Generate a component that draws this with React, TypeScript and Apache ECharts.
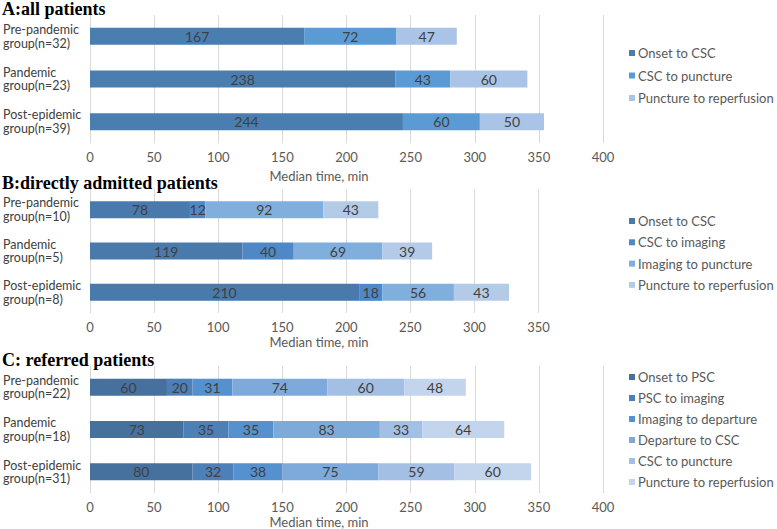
import React, { useEffect, useRef } from "react";
import * as echarts from "echarts";

const categoriesA = ["Pre-pandemic\ngroup(n=32)", "Pandemic\ngroup(n=23)", "Post-epidemic\ngroup(n=39)"];
const categoriesB = ["Pre-pandemic\ngroup(n=10)", "Pandemic\ngroup(n=5)", "Post-epidemic\ngroup(n=8)"];
const categoriesC = ["Pre-pandemic\ngroup(n=22)", "Pandemic\ngroup(n=18)", "Post-epidemic\ngroup(n=31)"];

const seriesNamesA = ["Onset to CSC", "CSC to puncture", "Puncture to reperfusion"];
const valuesA = [
  [167, 238, 244],
  [72, 43, 60],
  [47, 60, 50],
];
const colorsA = ["#4a7eb0", "#5b9bd5", "#a9c4e6"];

const seriesNamesB = ["Onset to CSC", "CSC to imaging", "Imaging to puncture", "Puncture to reperfusion"];
const valuesB = [
  [78, 119, 210],
  [12, 40, 18],
  [92, 69, 56],
  [43, 39, 43],
];
const colorsB = ["#4a7aab", "#4f88c6", "#80aedd", "#b4cbe8"];

const seriesNamesC = [
  "Onset to PSC",
  "PSC to imaging",
  "Imaging to departure",
  "Departure to CSC",
  "CSC to puncture",
  "Puncture to reperfusion",
];
const valuesC = [
  [60, 73, 80],
  [20, 35, 32],
  [31, 35, 38],
  [74, 83, 75],
  [60, 33, 59],
  [48, 64, 60],
];
const colorsC = ["#46709e", "#4d7fb8", "#5590cf", "#7eaadb", "#a3c0e4", "#c3d4ed"];

const titles = ["A:all patients", "B:directly admitted patients", "C: referred patients"];
const axisMax = [400, 350, 400];
const axisTitle = "Median time, min";

const FONT = "Lato, 'Noto Sans', sans-serif";

export default function App() {
  const ref = useRef<HTMLDivElement>(null);
  useEffect(() => {
    if (!ref.current) return;
    const chart = echarts.init(ref.current, undefined, { renderer: "svg" });

    const panels = [
      { cats: categoriesA, names: seriesNamesA, vals: valuesA, colors: colorsA, top: 15, height: 128, width: 516, legendTop: 46, gap: 8.5, titleTop: 0, nameY: 176 },
      { cats: categoriesB, names: seriesNamesB, vals: valuesB, colors: colorsB, top: 189, height: 124, width: 451.5, legendTop: 214, gap: 7.3, titleTop: 174, nameY: 342 },
      { cats: categoriesC, names: seriesNamesC, vals: valuesC, colors: colorsC, top: 366, height: 127, width: 516, legendTop: 370, gap: 7, titleTop: 351, nameY: 522 },
    ];

    const grid: any[] = [];
    const xAxis: any[] = [];
    const yAxis: any[] = [];
    const legend: any[] = [];
    const series: any[] = [];
    const title: any[] = [];
    const graphic: any[] = [];

    panels.forEach((p, i) => {
      grid.push({ left: 87, top: p.top, width: p.width, height: p.height, containLabel: false });
      xAxis.push({
        type: "value",
        gridIndex: i,
        min: 0,
        max: axisMax[i],
        interval: 50,
        axisLine: { show: false },
        axisTick: { show: false },
        splitLine: { lineStyle: { color: "#d9d9d9", width: 1 } },
        axisLabel: { color: "#595959", fontSize: 13, fontFamily: FONT, margin: 7 },
      });
      yAxis.push({
        type: "category",
        gridIndex: i,
        data: p.cats,
        inverse: true,
        axisLine: { show: true, lineStyle: { color: "#d9d9d9" } },
        axisTick: { show: false },
        axisLabel: {
          interval: 0,
          color: "#404040",
          fontSize: 12.5,
          fontFamily: FONT,
          align: "left",
          margin: 87,
          lineHeight: 13.5,
          padding: [7, 0, 0, 0],
        },
      });
      legend.push({
        orient: "vertical",
        left: 629,
        top: p.legendTop,
        padding: 0,
        itemWidth: 6,
        itemHeight: 6,
        itemGap: p.gap,
        icon: "rect",
        selectedMode: false,
        textStyle: { color: "#595959", fontSize: 13, fontFamily: FONT, lineHeight: 14, padding: [0, 0, 0, -2] },
        data: p.names.map((n, k) => ({ name: n, itemStyle: { color: p.colors[k] } })),
      });
      p.names.forEach((n, k) => {
        series.push({
          type: "bar",
          name: n,
          xAxisIndex: i,
          yAxisIndex: i,
          stack: "s" + i,
          barWidth: 17,
          data: p.vals[k],
          itemStyle: { color: p.colors[k] },
          label: {
            show: true,
            position: "inside",
            color: "#404040",
            fontSize: 14,
            fontFamily: FONT,
            formatter: "{c}",
          },
        });
      });
      title.push({
        text: titles[i],
        left: 2,
        top: p.titleTop,
        padding: 0,
        textStyle: { fontFamily: "'Liberation Serif', 'Times New Roman', serif", fontWeight: "bold", fontSize: 18, color: "#000" },
      });
      graphic.push({
        type: "text",
        x: 319,
        y: p.nameY,
        style: {
          text: axisTitle,
          textAlign: "center",
          textVerticalAlign: "middle",
          fill: "#595959",
          fontSize: 13,
          fontFamily: FONT,
        },
      });
    });

    chart.setOption({
      animation: false,
      backgroundColor: "#ffffff",
      title,
      grid,
      xAxis,
      yAxis,
      legend,
      series,
      graphic,
    });
    return () => chart.dispose();
  }, []);

  return (
    <div
      ref={ref}
      style={{ position: "fixed", left: 0, top: 0, width: 777, height: 529 }}
    />
  );
}
